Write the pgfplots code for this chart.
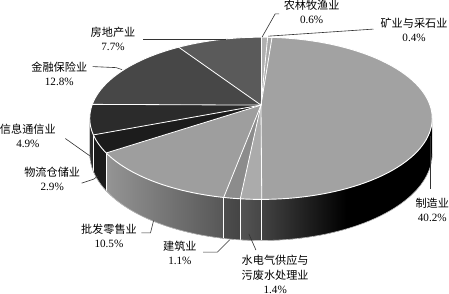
\documentclass[border=0pt]{standalone}
\usepackage{pgfplots}
\pgfplotsset{compat=1.18}
\usepackage{pgfplotstable}
\usepackage{fontspec}
\setmainfont{Liberation Serif}
\newfontfamily\cjk{Noto Sans CJK SC}

% share of each industry, in clockwise order from the top
\pgfplotstableread{
value
0.6
0.4
40.2
1.4
1.1
10.5
2.9
4.9
12.8
7.7
}\sectors

% top-face colours of the sectors
\definecolor{s0}{HTML}{B0B0B0}
\definecolor{s1}{HTML}{A8A8A8}
\definecolor{s2}{HTML}{A2A2A2}
\definecolor{s3}{HTML}{ABABAB}
\definecolor{s4}{HTML}{8C8C8C}
\definecolor{s5}{HTML}{9E9E9E}
\definecolor{s6}{HTML}{1C1C1C}
\definecolor{s7}{HTML}{2B2B2B}
\definecolor{s8}{HTML}{474747}
\definecolor{s9}{HTML}{5A5A5A}

\begin{document}
\begin{tikzpicture}[declare function={
    wf(\t)=1+0.1625*sin(\t);
    px(\t)=261+166.7*cos(\t)/wf(\t);
    py(\t)=107-77.9*sin(\t)/wf(\t);
    pb(\t)=py(\t)+34/wf(\t);
    lf(\t)=max(0,min(1,(345-px(\t))/253))^0.8;
  }]
% cumulative angles of the sectors
\gdef\cum{0}
\foreach \i in {0,...,9}{%
  \pgfplotstablegetelem{\i}{value}\of\sectors
  \pgfmathsetmacro\newcum{\cum+\pgfplotsretval}%
  \xdef\cum{\newcum}%
}
\pgfmathsetmacro\total{\cum}
\gdef\cum{0}
\foreach \i in {0,...,9}{%
  \pgfplotstablegetelem{\i}{value}\of\sectors
  \pgfmathsetmacro\sa{90-360*(\cum/\total)}%
  \pgfmathsetmacro\newcum{\cum+\pgfplotsretval}%
  \pgfmathsetmacro\sb{90-360*(\newcum/\total)}%
  \expandafter\xdef\csname angA\i\endcsname{\sa}%
  \expandafter\xdef\csname angB\i\endcsname{\sb}%
  \xdef\cum{\newcum}%
}
\begin{axis}[width=449pt,height=300pt,scale only axis,hide axis,
  xmin=0,xmax=449,ymin=0,ymax=300,y dir=reverse,clip=false]
\pgfplotsextra{
  % side wall, dark base
  \fill[black] plot[domain=-170.65:-9.35,samples=80] ({px(\x)},{py(\x)})
    -- plot[domain=0:1,samples=80] ({px(-9.35-\x*161.3)},{pb(-9.35-\x*161.3)}) -- cycle;
  % lit part of the side wall, sector by sector
  \foreach \i in {0,...,9}{
    \edef\sa{\csname angA\i\endcsname}
    \edef\sb{\csname angB\i\endcsname}
    \pgfmathsetmacro\lo{max(\sb,-170.65)}
    \pgfmathsetmacro\hi{min(\sa,-64.5)}
    \pgfmathparse{\lo<\hi ? 1 : 0}
    \ifnum\pgfmathresult=1
      \pgfmathtruncatemacro\fl{100*lf(\lo)}
      \pgfmathtruncatemacro\fr{100*lf(\hi)}
      \pgfmathtruncatemacro\ns{max(3,(\hi-\lo)/2+2)}
      \pgfmathsetmacro\span{\hi-\lo}
      \colorlet{sideL}{s\i!\fl!black}
      \colorlet{sideR}{s\i!\fr!black}
      \shade[left color=sideL,right color=sideR]
        plot[domain=\lo:\hi,samples=\ns] ({px(\x)},{py(\x)})
        -- plot[domain=0:1,samples=\ns] ({px(\hi-\x*\span)},{pb(\hi-\x*\span)}) -- cycle;
    \fi
  }
  % separators on the side wall
  \foreach \i in {0,...,9}{
    \edef\sa{\csname angA\i\endcsname}
    \pgfmathparse{and(\sa>-170.65,\sa<-9.35) ? 1 : 0}
    \ifnum\pgfmathresult=1
      \draw[white,line width=0.8pt] ({px(\sa)},{py(\sa)}) -- ({px(\sa)},{pb(\sa)});
    \fi
  }
  \draw[black!25,line width=0.6pt] plot[domain=-170.65:-9.35,samples=80] ({px(\x)},{pb(\x)});
  % top face
  \foreach \i in {0,...,9}{
    \edef\sa{\csname angA\i\endcsname}
    \edef\sb{\csname angB\i\endcsname}
    \pgfmathtruncatemacro\ns{max(3,(\sa-\sb)/2+2)}
    \fill[s\i] (261,107) -- plot[domain=\sb:\sa,samples=\ns] ({px(\x)},{py(\x)}) -- cycle;
  }
  \foreach \i in {0,...,9}{
    \edef\sa{\csname angA\i\endcsname}
    \draw[white,line width=0.8pt] (261,107) -- ({px(\sa)},{py(\sa)});
  }
  \draw[white,line width=0.9pt] plot[domain=-180:180,samples=181] ({px(\x)},{py(\x)}) -- cycle;
}
% leader lines
\draw[black!80,line width=0.6pt] (279,17) -- (275,17) -- (262,40);
\draw[black!80,line width=0.6pt] (372,32) -- (268,39);
\draw[black!80,line width=0.6pt] (145,42) -- (226,42);
\draw[black!80,line width=0.6pt] (95,69) -- (118,70) -- (124,72);
\draw[black!80,line width=0.6pt] (68,140) -- (92,157);
\draw[black!80,line width=0.6pt] (84,184) -- (96,180) -- (100,177);
\draw[black!80,line width=0.6pt] (143,233) -- (152,233) -- (155,221);
\draw[black!80,line width=0.6pt] (204,252) -- (218,252) -- (230,240);
\draw[black!80,line width=0.6pt] (256,250) -- (249,234);
\draw[black!80,line width=0.6pt] (428,137) -- (428,190);
% labels
\begin{scope}[every node/.style={align=center,inner sep=0pt,text=black,
    font=\fontsize{11}{14}\selectfont}]
\node at (311,15) {{\cjk 农林牧渔业}\\0.6\%};
\node at (412,33) {{\cjk 矿业与采石业}\\0.4\%};
\node at (115,42) {{\cjk 房地产业}\\7.7\%};
\node at (62,76) {{\cjk 金融保险业}\\12.8\%};
\node at (31,137) {{\cjk 信息通信业}\\4.9\%};
\node at (55,180) {{\cjk 物流仓储业}\\2.9\%};
\node at (111,236) {{\cjk 批发零售业}\\10.5\%};
\node at (181,253) {{\cjk 建筑业}\\1.1\%};
\node at (275,274) {{\cjk 水电气供应与}\\{\cjk 污废水处理业}\\1.4\%};
\node at (430,210) {{\cjk 制造业}\\40.2\%};
\end{scope}
\end{axis}
\end{tikzpicture}
\end{document}
